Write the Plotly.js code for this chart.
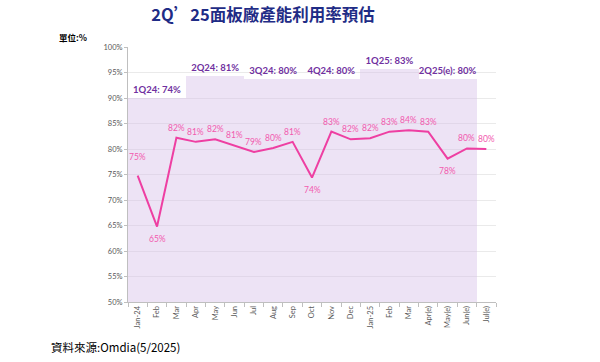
<!DOCTYPE html>
<html>
<head>
<meta charset="utf-8">
<script src="https://cdn.plot.ly/plotly-3.0.1.min.js"></script>
<style>html,body{margin:0;padding:0;background:#fff;}#chart{width:600px;height:362px;}</style>
</head>
<body>
<div id="chart"></div>
<script>
// Monthly categories (tick labels)
var months = ['Jan-24','Feb','Mar','Apr','May','Jun','Jul','Aug','Sep','Oct','Nov','Dec','Jan-25','Feb','Mar','Apr(e)','May(e)','Jun(e)','Jul(e)'];
// Monthly utilisation (%)
var utilization = [74.8, 64.8, 82.2, 81.4, 81.9, 80.7, 79.4, 80.2, 81.4, 74.4, 83.4, 81.9, 82.1, 83.4, 83.7, 83.4, 78.1, 80.1, 80.0];
// Quarterly utilisation (%)
var quarters = ['1Q24','2Q24','3Q24','4Q24','1Q25','2Q25(e)'];
var quarterValues = [74, 81, 80, 80, 83, 80];

var monthIdx = months.map(function(_, i){ return i; });
var belowSet = {1:true, 9:true, 16:true};

var qX = quarters.map(function(_, i){ return i * 3 + 1; });
var qText = quarters.map(function(q, i){ return q + ': ' + quarterValues[i] + '%'; });

var fontLat = 'Lato, "Noto Sans CJK TC", sans-serif';

var traces = [
  {
    type: 'bar',
    x: qX,
    y: quarterValues,
    width: 3,
    xaxis: 'x', yaxis: 'y',
    marker: {color: 'rgba(215,192,233,0.45)', line: {width: 0}},
    text: qText,
    textposition: 'outside',
    cliponaxis: false,
    outsidetextfont: {color: '#7030A0', size: 9.5, family: fontLat, weight: 'bold'},
    hoverinfo: 'skip'
  },
  {
    type: 'scatter',
    mode: 'lines',
    x: monthIdx,
    y: utilization,
    xaxis: 'x', yaxis: 'y2',
    line: {color: '#EE3FA2', width: 2},
    cliponaxis: false,
    hoverinfo: 'skip'
  }
];

var pw = 600 - 128 - 104, ph = 362 - 47 - 60;
function px(xp){ return (xp - 128) / pw; }
function py(yp){ return (362 - 60 - yp) / ph; }

var annotations = utilization.map(function(v, i){
  var below = !!belowSet[i];
  return {
    x: i, y: v, xref: 'x', yref: 'y2',
    text: Math.round(v) + '%',
    showarrow: false,
    xanchor: 'center', yanchor: 'middle',
    yshift: below ? -12 : (i === 0 ? 19 : 10),
    font: {family: fontLat, size: 8.5, color: '#F25AAE'}
  };
});
annotations.push({
  text: '<b>單位:%</b>', xref: 'paper', yref: 'paper',
  x: px(57), y: py(37), xanchor: 'left', yanchor: 'middle',
  showarrow: false,
  font: {family: '"Noto Sans CJK TC", sans-serif', size: 8.5, color: '#000000'}
});
annotations.push({
  text: '資料來源:Omdia(5/2025)', xref: 'paper', yref: 'paper',
  x: px(49), y: py(347), xanchor: 'left', yanchor: 'middle',
  showarrow: false,
  font: {family: '"Noto Sans CJK TC", sans-serif', size: 11.5, color: '#000000'}
});

var layout = {
  width: 600, height: 362,
  margin: {l: 128, r: 104, t: 47, b: 60},
  paper_bgcolor: '#ffffff',
  plot_bgcolor: '#ffffff',
  showlegend: false,
  bargap: 0,
  title: {
    text: '2Q’25面板廠產能利用率預估',
    x: 263/600, xanchor: 'center', xref: 'container',
    y: 1 - 15/362, yanchor: 'middle', yref: 'container',
    font: {family: '"Noto Sans CJK TC", sans-serif', size: 16.5, color: '#1F2C86', weight: 'bold'}
  },
  xaxis: {
    range: [-0.5, 18.5],
    tickmode: 'array',
    tickvals: monthIdx,
    ticktext: months,
    tickangle: -90,
    ticks: '',
    tickfont: {family: fontLat, size: 7.5, color: '#595959'},
    showline: true, linecolor: '#BFBFBF', linewidth: 1,
    showgrid: false, zeroline: false,
    minor: {tickmode: 'linear', tick0: -0.5, dtick: 1, ticks: 'outside', ticklen: 4, tickcolor: '#BFBFBF', showgrid: false},
    fixedrange: true
  },
  yaxis: {
    range: [10, 90],
    visible: false,
    showgrid: false,
    fixedrange: true
  },
  yaxis2: {
    overlaying: 'y',
    side: 'left',
    anchor: 'x',
    range: [50, 100],
    tickmode: 'linear', tick0: 50, dtick: 5,
    ticksuffix: '%',
    ticks: 'outside', ticklen: 3, tickcolor: '#BFBFBF',
    tickfont: {family: fontLat, size: 7.5, color: '#595959'},
    showline: true, linecolor: '#BFBFBF', linewidth: 1,
    showgrid: true, gridcolor: '#EAEAEA', gridwidth: 1,
    zeroline: false,
    fixedrange: true
  },
  annotations: annotations
};

Plotly.newPlot('chart', traces, layout, {displayModeBar: false, staticPlot: true});
</script>
</body>
</html>
